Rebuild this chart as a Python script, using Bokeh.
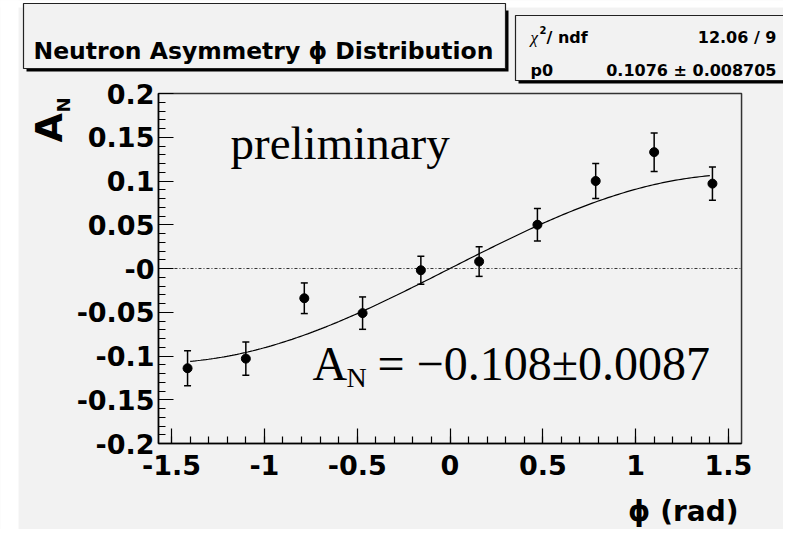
import numpy as np
from bokeh.plotting import figure
from bokeh.models import Range1d, FixedTicker, Whisker, TeeHead, ColumnDataSource
from bokeh.core.properties import value
from bokeh.embed import file_html
from bokeh.resources import INLINE

# ---------------- data ----------------
phi = [-1.414, -1.100, -0.785, -0.471, -0.157, 0.157, 0.471, 0.785, 1.100, 1.414]
asym = [-0.114, -0.103, -0.034, -0.051, -0.002, 0.008, 0.050, 0.100, 0.133, 0.097]
asym_err = [0.020, 0.019, 0.0175, 0.0185, 0.016, 0.017, 0.0185, 0.020, 0.022, 0.019]
p0 = 0.1076
p0_err = 0.008705
chi2 = 12.06
ndf = 9
fit_lo, fit_hi = -1.40, 1.40

x_lo, x_hi = -np.pi / 2, np.pi / 2
y_lo, y_hi = -0.2, 0.2
x_ticks = [-1.5, -1.0, -0.5, 0.0, 0.5, 1.0, 1.5]
x_tick_labels = ["-1.5", "-1", "-0.5", "0", "0.5", "1", "1.5"]
y_ticks = [-0.2, -0.15, -0.1, -0.05, 0.0, 0.05, 0.1, 0.15, 0.2]
y_tick_labels = ["-0.2", "-0.15", "-0.1", "-0.05", "-0", "0.05", "0.1", "0.15", "0.2"]
x_minor = [round(-1.5 + 0.1 * i, 2) for i in range(31)]
y_minor = [round(-0.2 + 0.01 * i, 3) for i in range(41)]

title_text = "Neutron Asymmetry \u03d5 Distribution"
x_title = "\u03d5 (rad)"
fit_text = "= \u22120.108\u00b10.0087"

BG = "#f2f2f2"
SANS = value("DejaVu Sans")
SERIF = value("Liberation Serif")

# canvas-pixel layout helpers (the frame covers the whole canvas; axes are placed
# at fixed locations so the visible plot box is x_lo..x_hi, y_lo..y_hi)
W, H = 783, 529
PX0, PXS = 449.5, 185.6     # canvas x of phi=0, pixels per rad
PY0, PYS = 268.0, 875.0     # canvas y of A=0, pixels per unit


def xd(px):
    return (px - PX0) / PXS


def yd(py):
    return (PY0 - py) / PYS


p = figure(width=W, height=H,
           x_range=Range1d(xd(0), xd(W)), y_range=Range1d(yd(H), yd(0)),
           toolbar_location=None, output_backend="svg", min_border=0,
           background_fill_color=BG, border_fill_color=BG, outline_line_color=None)
p.grid.visible = False

# white strips at the left and top (margin of the original picture)
p.quad(left=[xd(-5)], right=[xd(18)], bottom=[yd(600)], top=[yd(-5)], fill_color="white", line_color=None)
p.quad(left=[xd(-5)], right=[xd(900)], bottom=[yd(7)], top=[yd(-5)], fill_color="white", line_color=None)

# ---- axes ----
p.xaxis.fixed_location = y_lo
p.yaxis.fixed_location = x_lo
p.xaxis.bounds = (x_lo, x_hi)
p.yaxis.bounds = (y_lo, y_hi)
p.xaxis.ticker = FixedTicker(ticks=x_ticks, minor_ticks=x_minor)
p.yaxis.ticker = FixedTicker(ticks=y_ticks, minor_ticks=y_minor)
p.xaxis.major_label_overrides = {t: l for t, l in zip(x_ticks, x_tick_labels)}
p.yaxis.major_label_overrides = {t: l for t, l in zip(y_ticks, y_tick_labels)}
for ax in (p.xaxis[0], p.yaxis[0]):
    ax.axis_line_color = "black"
    ax.axis_line_width = 1.5
    ax.major_tick_in = 15
    ax.major_tick_out = 0
    ax.minor_tick_in = 7
    ax.minor_tick_out = 0
    ax.major_tick_line_color = "black"
    ax.minor_tick_line_color = "black"
    ax.major_tick_line_width = 1.2
    ax.minor_tick_line_width = 1.2
    ax.major_label_text_font = "DejaVu Sans"
    ax.major_label_text_font_style = "bold"
    ax.major_label_text_font_size = "27px"
    ax.major_label_text_color = "black"
p.xaxis.major_label_standoff = 11
p.yaxis.major_label_standoff = 4

# plot box (top and right sides)
p.quad(left=[x_lo], right=[x_hi], bottom=[y_lo], top=[y_hi], fill_color=None,
       line_color="#333333", line_width=1.5)

# zero line
p.segment(x0=[x_lo], x1=[x_hi], y0=[0], y1=[0], line_color="#333333",
          line_width=1, line_dash="3 2 1 2")

# fit curve
xf = np.linspace(fit_lo, fit_hi, 200)
p.line(xf, p0 * np.sin(xf), line_color="black", line_width=1.2)

# data with error bars
src = ColumnDataSource(dict(
    x=phi, y=asym,
    upper=[a + e for a, e in zip(asym, asym_err)],
    lower=[a - e for a, e in zip(asym, asym_err)],
))
p.add_layout(Whisker(source=src, base="x", upper="upper", lower="lower",
                     line_color="black", line_width=1.5,
                     upper_head=TeeHead(size=7, line_color="black", line_width=1.5),
                     lower_head=TeeHead(size=7, line_color="black", line_width=1.5)))
p.scatter("x", "y", source=src, size=9, marker="circle", fill_color="black", line_color="black")


def txt(px, py, s, font=SANS, size="16px", style="bold", align="left", angle=0.0):
    p.text(x=[xd(px)], y=[yd(py)], text=[s], text_font=font, text_font_style=style,
           text_font_size=size, text_align=align, text_baseline="alphabetic",
           angle=angle, text_color="black")


# texts inside the box
txt(230, 142, "preliminary", font=SERIF, size="47px", style="normal")
txt(312, 363, "A", font=SERIF, size="48px", style="normal")
txt(346, 377, "N", font=SERIF, size="28px", style="normal")
txt(377, 363, fit_text, font=SERIF, size="48px", style="normal")

# axis titles
txt(48, 142, "A", size="38px", angle=np.pi / 2)
txt(63, 112, "N", size="18px", angle=np.pi / 2)
txt(738, 511, x_title, size="28px", align="right")

# title box with shadow
p.quad(left=[xd(26)], right=[xd(508)], top=[yd(10)], bottom=[yd(71)], fill_color="black", line_color=None)
p.quad(left=[xd(23)], right=[xd(505)], top=[yd(3)], bottom=[yd(68)], fill_color=BG,
       line_color="#222222", line_width=1.2)
txt(33, 50, title_text, size="23.5px")

# stats box with shadow
p.quad(left=[xd(518)], right=[xd(810)], top=[yd(18)], bottom=[yd(83)], fill_color="black", line_color=None)
p.quad(left=[xd(515)], right=[xd(805)], top=[yd(15)], bottom=[yd(80)], fill_color=BG,
       line_color="#222222", line_width=1.2)
txt(530, 37, "\u03c7", font=SERIF, size="17px", style="italic")
txt(539, 29, "2", size="10px")
txt(546, 37, "/ ndf", size="16px")
txt(776, 37, f"{chi2:.2f} / {ndf}", size="16px", align="right")
txt(530, 70, "p0", size="16px")
txt(776, 70, f"{p0:.4f} \u00b1 {p0_err:.6f}", size="16px", align="right")

open("out.html", "w").write(file_html(p, INLINE))
